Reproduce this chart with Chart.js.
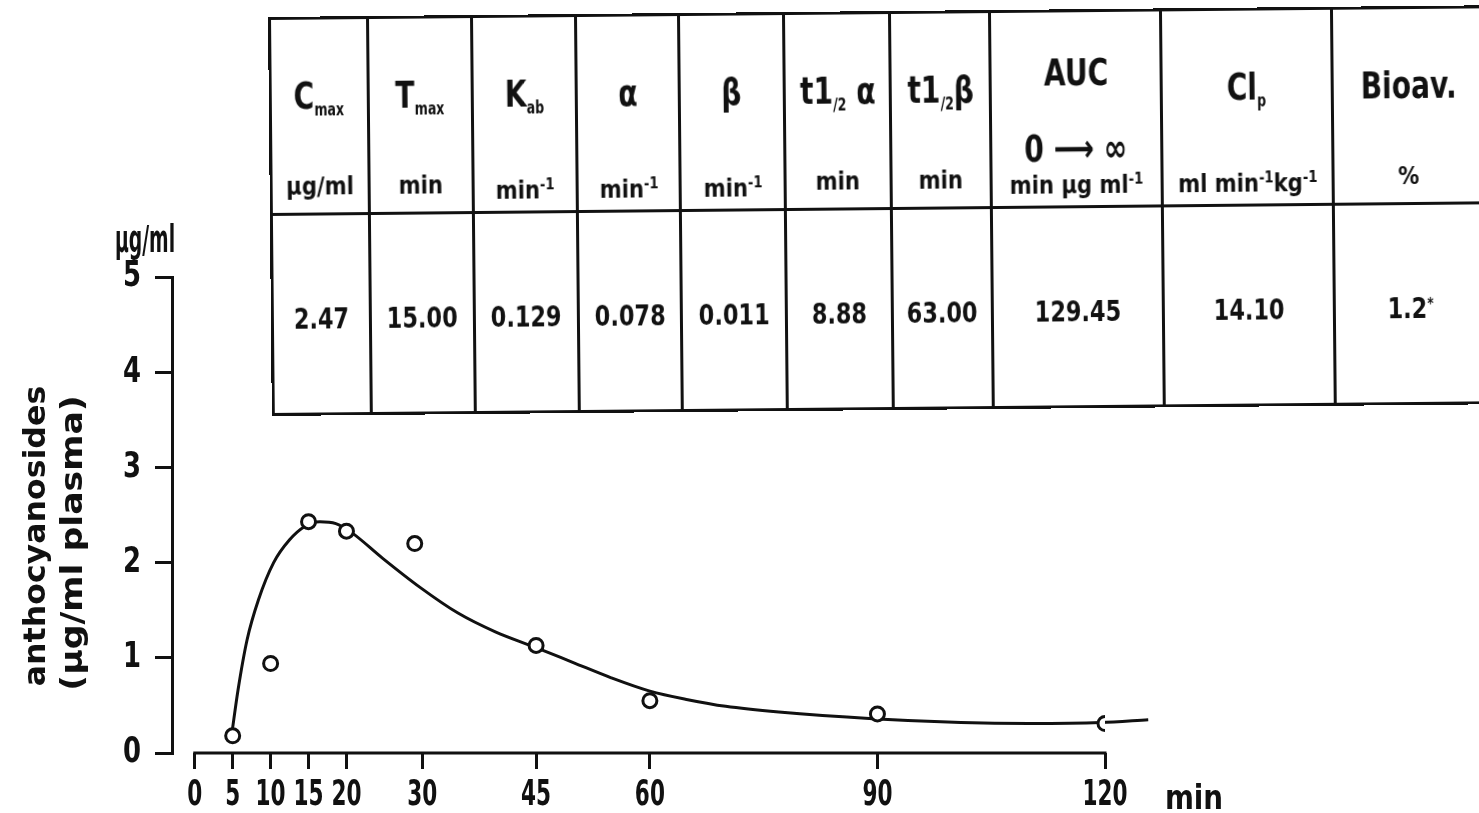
<!DOCTYPE html>
<html>
<head>
<meta charset="utf-8">
<script src="https://cdn.jsdelivr.net/npm/chart.js@4.4.0/dist/chart.umd.min.js"></script>
<style>
  body { margin: 0; background: #fff; overflow: hidden; }
  #wrap { position: relative; width: 1479px; height: 813px; overflow: hidden;
          font-family: "DejaVu Sans", sans-serif; font-weight: bold; color: #111; }
  canvas { position: absolute; left: 0; top: 0; }
  .lbl { position: absolute; white-space: nowrap; }
  #params { position: absolute; left: 268px; top: 17px; border-collapse: collapse; table-layout: fixed;
            transform: rotate(-0.55deg); transform-origin: 0 0; }
  #params td { border: 3px solid #111; padding: 0; text-align: center; position: relative; white-space: nowrap; }
  #params tr.head td { height: 193px; }
  #params tr.vals td { height: 187px; padding-top: 10px; font-size: 28px; vertical-align: middle; }
  .n { display: inline-block; }
  .sym { position: absolute; left: 0; right: 0; top: 54px; line-height: 44px; font-size: 38px; }
  .sym.two { top: 22px; line-height: 76px; }
  .sym .n { transform: scaleX(0.74); }
  .sym sub { font-size: 17px; vertical-align: -7px; }
  .unit { position: absolute; left: 0; right: 0; top: 152px; line-height: 30px; font-size: 24px; }
  .unit .n { transform: scaleX(0.88); }
  .vals .n { transform: scaleX(0.8); }
  .unit sup, .vals sup { font-size: 15px; vertical-align: 9px; }
</style>
</head>
<body>
<div id="wrap">
  <canvas id="chart" width="1479" height="813"></canvas>
  <table id="params"></table>
</div>
<script>
// time (min) and measured plasma levels (µg/ml)
const sampleTimes = [5, 10, 15, 20, 29, 45, 60, 90, 120];
const sampleLevels = [0.18, 0.94, 2.43, 2.33, 2.2, 1.13, 0.55, 0.41, 0.31];

// fitted curve
const fitTimes = [4.9, 5.7, 6.9, 8.4, 10.4, 12.5, 14.5, 16.5, 18.6, 20.6, 24.7, 29.7, 34.7, 39.7, 44.9, 49.9, 54.9, 60, 65, 70, 77, 89.4, 101, 110, 119.4, 125.7];
const fitLevels = [0.21, 0.66, 1.19, 1.61, 2.0, 2.24, 2.38, 2.43, 2.41, 2.32, 2.05, 1.74, 1.47, 1.27, 1.11, 0.95, 0.79, 0.65, 0.56, 0.49, 0.43, 0.36, 0.32, 0.31, 0.32, 0.35];

const xTicks = [0, 5, 10, 15, 20, 30, 45, 60, 90, 120];
const yTicks = [0, 1, 2, 3, 4, 5];

// pharmacokinetic parameter table
const paramSymbols = ['C<sub>max</sub>', 'T<sub>max</sub>', 'K<sub>ab</sub>', 'α', 'β', 't1<sub>/2</sub> α', 't1<sub>/2</sub>β', 'AUC<br>0 ⟶ ∞', 'Cl<sub>p</sub>', 'Bioav.'];
const paramUnits = ['µg/ml', 'min', 'min<sup>-1</sup>', 'min<sup>-1</sup>', 'min<sup>-1</sup>', 'min', 'min', 'min µg ml<sup>-1</sup>', 'ml min<sup>-1</sup>kg<sup>-1</sup>', '%'];
const paramValues = ['2.47', '15.00', '0.129', '0.078', '0.011', '8.88', '63.00', '129.45', '14.10', '1.2<sup>*</sup>'];

const wrap = document.getElementById('wrap');

// build the table
const colWidths = [98, 104, 104, 103, 105, 106, 100, 171, 171, 152];
const table = document.getElementById('params');
table.style.width = colWidths.reduce((a, b) => a + b, 0) + 'px';
const sp = s => s.split('<br>').map(p => `<span class="n">${p}</span>`).join('<br>');
let html = '<colgroup>' + colWidths.map(w => `<col style="width:${w}px">`).join('') + '</colgroup>';
html += '<tr class="head">' + paramSymbols.map((s, i) =>
  `<td><div class="sym${s.includes('<br>') ? ' two' : ''}">${sp(s)}</div><div class="unit">${sp(paramUnits[i])}</div></td>`).join('') + '</tr>';
html += '<tr class="vals">' + paramValues.map(v => `<td>${sp(v)}</td>`).join('') + '</tr>';
table.innerHTML = html;

// free labels, squeezed to the narrow lettering of the figure
function label(text, cx, cy, size, target, rotated) {
  const el = document.createElement('div');
  el.className = 'lbl';
  el.textContent = text;
  el.style.fontSize = size + 'px';
  el.style.lineHeight = Math.round(size * 1.2) + 'px';
  wrap.appendChild(el);
  const s = target / el.offsetWidth;
  el.style.left = cx + 'px';
  el.style.top = cy + 'px';
  el.style.transform = `translate(-50%, -50%)${rotated ? ' rotate(-90deg)' : ''} scaleX(${s.toFixed(3)})`;
}
label('µg/ml', 145, 240, 37, 60, false);
label('anthocyanosides', 35, 536, 30, 300, true);
label('(µg/ml plasma)', 72, 543, 30, 295, true);
label('min', 1194, 797, 34, 58, false);

const ink = '#111';

// x axis line only from first to last tick, and narrow tick labels
const axisDeco = {
  id: 'axisDeco',
  afterDraw(chart) {
    const { ctx, chartArea } = chart;
    const { x, y } = chart.scales;
    ctx.save();
    ctx.strokeStyle = ink;
    ctx.lineWidth = 3;
    ctx.beginPath();
    ctx.moveTo(x.getPixelForValue(xTicks[0]) - 1.5, chartArea.bottom);
    ctx.lineTo(x.getPixelForValue(xTicks[xTicks.length - 1]) + 1.5, chartArea.bottom);
    ctx.stroke();

    ctx.fillStyle = ink;
    ctx.font = 'bold 36px "DejaVu Sans"';
    ctx.textBaseline = 'middle';
    ctx.textAlign = 'center';
    xTicks.forEach(v => {
      ctx.save();
      ctx.translate(x.getPixelForValue(v), chartArea.bottom + 43);
      ctx.scale(0.6, 1);
      ctx.fillText(String(v), 0, 0);
      ctx.restore();
    });
    ctx.textAlign = 'right';
    yTicks.forEach(v => {
      ctx.save();
      ctx.translate(141, y.getPixelForValue(v));
      ctx.scale(0.72, 1);
      ctx.fillText(String(v), 0, 0);
      ctx.restore();
    });
    ctx.restore();
  }
};

new Chart(document.getElementById('chart'), {
  type: 'scatter',
  data: {
    datasets: [{
      label: 'measured',
      data: sampleTimes.map((t, i) => ({ x: t, y: sampleLevels[i] })),
      pointStyle: 'circle',
      pointRadius: 7,
      borderWidth: 3,
      borderColor: ink,
      backgroundColor: '#fff',
      showLine: false
    }, {
      label: 'fit',
      data: fitTimes.map((t, i) => ({ x: t, y: fitLevels[i] })),
      showLine: true,
      pointRadius: 0,
      borderColor: ink,
      borderWidth: 3,
      cubicInterpolationMode: 'monotone',
      clip: false
    }]
  },
  options: {
    responsive: false,
    animation: false,
    layout: { padding: { top: 277, right: 374, bottom: 0, left: 0 } },
    plugins: { legend: { display: false }, tooltip: { enabled: false } },
    scales: {
      x: {
        type: 'linear',
        min: -3,
        max: 120,
        afterFit: s => { s.height = 60; },
        afterBuildTicks: s => { s.ticks = xTicks.map(v => ({ value: v })); },
        border: { display: false },
        grid: { drawOnChartArea: false, drawTicks: true, tickLength: 16, color: ink, lineWidth: 3 },
        ticks: { display: false }
      },
      y: {
        min: 0,
        max: 5,
        afterFit: s => { s.width = 172; },
        afterBuildTicks: s => { s.ticks = yTicks.map(v => ({ value: v })); },
        border: { display: true, color: ink, width: 3 },
        grid: { drawOnChartArea: false, drawTicks: true, tickLength: 17, color: ink, lineWidth: 3 },
        ticks: { display: false }
      }
    }
  },
  plugins: [axisDeco]
});
</script>
</body>
</html>
